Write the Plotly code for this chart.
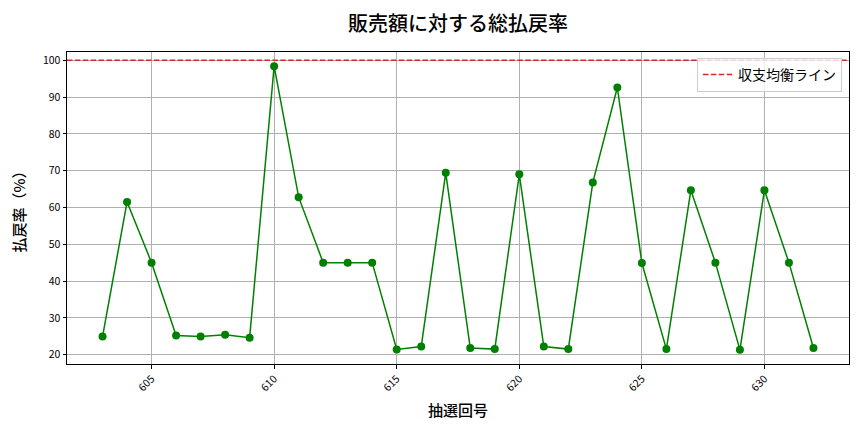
import plotly.graph_objects as go

# 抽選回号と払戻率（%）
draw_numbers = list(range(603, 633))
payout_rates = [
    24.9, 61.5, 45.0, 25.2, 24.9, 25.4, 24.6, 98.4, 62.8, 45.0,
    45.0, 45.0, 21.4, 22.2, 69.4, 21.8, 21.5, 69.0, 22.2, 21.5,
    66.8, 92.6, 44.9, 21.5, 64.7, 45.0, 21.3, 64.7, 45.0, 21.8,
]
break_even = 100
x_ticks = [605, 610, 615, 620, 625, 630]
y_ticks = [20, 30, 40, 50, 60, 70, 80, 90, 100]

font_family = "Noto Sans CJK JP"
red = "#d62728"

fig = go.Figure()

# 払戻率の推移
fig.add_trace(go.Scatter(
    x=draw_numbers,
    y=payout_rates,
    mode="lines+markers",
    line=dict(color="green", width=1.5),
    marker=dict(color="green", size=8),
    showlegend=False,
))

# 収支均衡ライン（凡例用のダミー）
fig.add_trace(go.Scatter(
    x=[None],
    y=[None],
    mode="lines",
    name="収支均衡ライン",
    line=dict(color=red, width=1.5, dash="5.5px,2.4px"),
))

fig.add_hline(y=break_even, line=dict(color=red, width=1.5, dash="5.5px,2.4px"))

axis_common = dict(
    showgrid=True,
    gridcolor="#b0b0b0",
    gridwidth=0.8,
    showline=True,
    linecolor="black",
    linewidth=1,
    mirror=True,
    ticks="outside",
    ticklen=3.5,
    tickcolor="black",
    tickfont=dict(family=font_family, size=10.5, color="black"),
    zeroline=False,
    automargin=False,
)

# the page puts the figure 8px in from the top-left corner
fig.update_layout(
    width=848,
    height=416,
    margin=dict(l=58.5, r=7, t=44, b=60),
    paper_bgcolor="white",
    plot_bgcolor="white",
    font=dict(family=font_family, color="black"),
    title=dict(
        text="販売額に対する総払戻率",
        xref="paper",
        x=0.5,
        xanchor="center",
        y=0.962,
        yanchor="middle",
        font=dict(family=font_family, size=20, color="black", weight=500),
    ),
    xaxis=dict(
        axis_common,
        range=[601.55, 633.45],
        tickvals=x_ticks,
        tickangle=-45,
        title=dict(text="抽選回号", font=dict(family=font_family, size=15, weight=500), standoff=12),
    ),
    yaxis=dict(
        axis_common,
        range=[17.45, 102.25],
        tickvals=y_ticks,
        title=dict(text="払戻率（%）", font=dict(family=font_family, size=15, weight=500), standoff=14),
    ),
    legend=dict(
        x=0.991,
        y=0.981,
        xanchor="right",
        yanchor="top",
        bgcolor="rgba(255,255,255,0.8)",
        bordercolor="#cccccc",
        borderwidth=1,
        font=dict(family=font_family, size=14),
    ),
)

fig.write_html("out.html")
